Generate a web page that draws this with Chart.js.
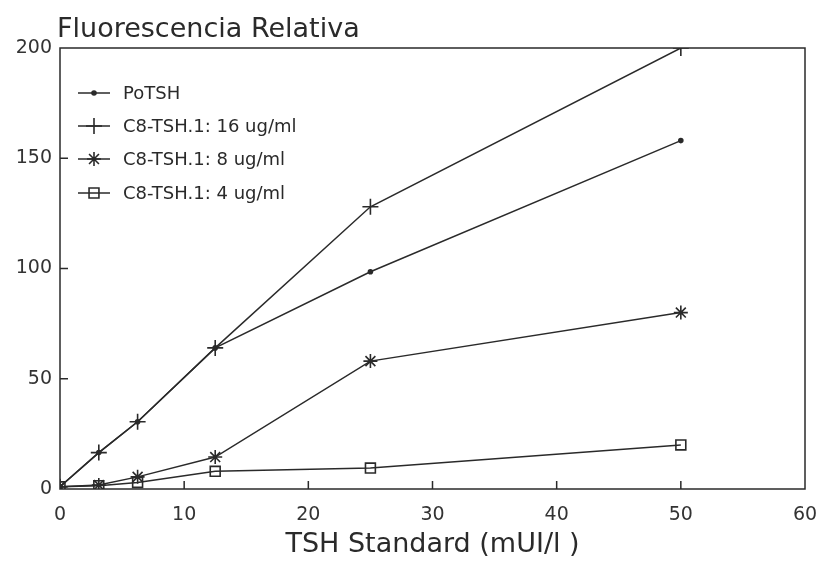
<!DOCTYPE html>
<html>
<head>
<meta charset="utf-8">
<script src="https://cdn.jsdelivr.net/npm/chart.js@4"></script>
<style>
  html, body { margin: 0; padding: 0; background: #fff; }
  #wrap { width: 818px; height: 562px; }
</style>
</head>
<body>
<div id="wrap"><canvas id="myChart" width="818" height="562"></canvas></div>
<script>
// TSH standard concentrations (mUI/l)
const tshStd = [0, 3.125, 6.25, 12.5, 25, 50];

// relative fluorescence for each curve
const poTSH = [1, 16.5, 30.5, 64, 98.5, 158];
const c8_16 = [1, 16.5, 30.5, 64, 128, 200];
const c8_8 = [1, 1.8, 5.5, 14.5, 58, 80];
const c8_4 = [1, 1.5, 3, 8, 9.5, 20];

const seriesNames = ['PoTSH', 'C8-TSH.1: 16 ug/ml', 'C8-TSH.1: 8 ug/ml', 'C8-TSH.1: 4 ug/ml'];

const xTicks = [0, 10, 20, 30, 40, 50, 60];
const yTicks = [0, 50, 100, 150, 200];

const ink = '#2a2a2a';
const fontName = '"DejaVu Sans", Verdana, sans-serif';

function toPoints(vals) {
    return tshStd.map((x, i) => ({ x: x, y: vals[i] }));
}

const styles = [
    { pointStyle: 'circle', radius: 2, fill: true },
    { pointStyle: 'cross', radius: 8, fill: false },
    { pointStyle: 'star', radius: 7, fill: false },
    { pointStyle: 'rect', radius: 7, fill: false }
];

const allValues = [poTSH, c8_16, c8_8, c8_4];

const datasets = allValues.map((vals, i) => ({
    label: seriesNames[i],
    data: toPoints(vals),
    borderColor: ink,
    borderWidth: 1.5,
    pointStyle: styles[i].pointStyle,
    pointRadius: styles[i].radius,
    pointHoverRadius: styles[i].radius,
    pointBorderColor: ink,
    pointBorderWidth: 1.6,
    pointBackgroundColor: styles[i].fill ? ink : 'rgba(255,255,255,0)',
    tension: 0
}));

// frame, inward ticks, title and legend
const decorPlugin = {
    id: 'decor',
    afterDraw(chart) {
        const ctx = chart.ctx;
        const area = chart.chartArea;
        const xs = chart.scales.x;
        const ys = chart.scales.y;

        ctx.save();
        ctx.strokeStyle = ink;
        ctx.lineWidth = 1.5;
        ctx.strokeRect(area.left, area.top, area.right - area.left, area.bottom - area.top);

        // inward tick marks
        ctx.beginPath();
        xTicks.slice(1, -1).forEach((v) => {
            let px = xs.getPixelForValue(v);
            ctx.moveTo(px, area.bottom);
            ctx.lineTo(px, area.bottom - 8);
        });
        yTicks.slice(1, -1).forEach((v) => {
            let py = ys.getPixelForValue(v);
            ctx.moveTo(area.left, py);
            ctx.lineTo(area.left + 8, py);
        });
        ctx.stroke();

        // title over the y axis
        ctx.fillStyle = ink;
        ctx.font = '27px ' + fontName;
        ctx.textAlign = 'left';
        ctx.textBaseline = 'alphabetic';
        ctx.fillText('Fluorescencia Relativa', 57, 37);

        // legend
        ctx.font = '18px ' + fontName;
        ctx.textBaseline = 'middle';
        const rowY = [93, 126, 159, 193];
        datasets.forEach((ds, i) => {
            let y = rowY[i];
            ctx.beginPath();
            ctx.lineWidth = 1.5;
            ctx.moveTo(78, y);
            ctx.lineTo(110, y);
            ctx.stroke();
            ctx.fillStyle = ds.pointBackgroundColor;
            ctx.lineWidth = 1.6;
            Chart.helpers.drawPoint(ctx, {
                pointStyle: ds.pointStyle,
                radius: ds.pointRadius,
                rotation: 0,
                borderWidth: 1.6
            }, 94, y);
            ctx.fillStyle = ink;
            ctx.fillText(ds.label, 123, y + 1);
        });
        ctx.restore();
    }
};

const config = {
    type: 'line',
    data: { datasets: datasets },
    options: {
        responsive: false,
        animation: false,
        layout: { padding: { top: 48, right: 13, left: 0, bottom: 0 } },
        plugins: {
            legend: { display: false },
            tooltip: { enabled: false }
        },
        scales: {
            x: {
                type: 'linear',
                min: 0,
                max: 60,
                afterBuildTicks: (scale) => { scale.ticks = xTicks.map((v) => ({ value: v })); },
                afterFit: (scale) => {
                    scale.height = 73;
                    scale.paddingLeft = 0;
                    scale.paddingRight = 0;
                },
                grid: { display: false, drawTicks: false },
                border: { display: false },
                ticks: { color: '#333', font: { family: fontName, size: 19 }, padding: 15, maxRotation: 0 },
                title: {
                    display: true,
                    text: 'TSH Standard (mUI/l )',
                    color: ink,
                    font: { family: fontName, size: 27 },
                    padding: { top: 2, bottom: 1 }
                }
            },
            y: {
                min: 0,
                max: 200,
                afterBuildTicks: (scale) => { scale.ticks = yTicks.map((v) => ({ value: v })); },
                afterFit: (scale) => {
                    scale.width = 60;
                    scale.paddingTop = 0;
                    scale.paddingBottom = 0;
                },
                grid: { display: false, drawTicks: false },
                border: { display: false },
                ticks: { color: '#333', font: { family: fontName, size: 19 }, padding: 8 }
            }
        }
    },
    plugins: [decorPlugin]
};

const myChart = new Chart(document.getElementById('myChart'), config);
</script>
</body>
</html>
